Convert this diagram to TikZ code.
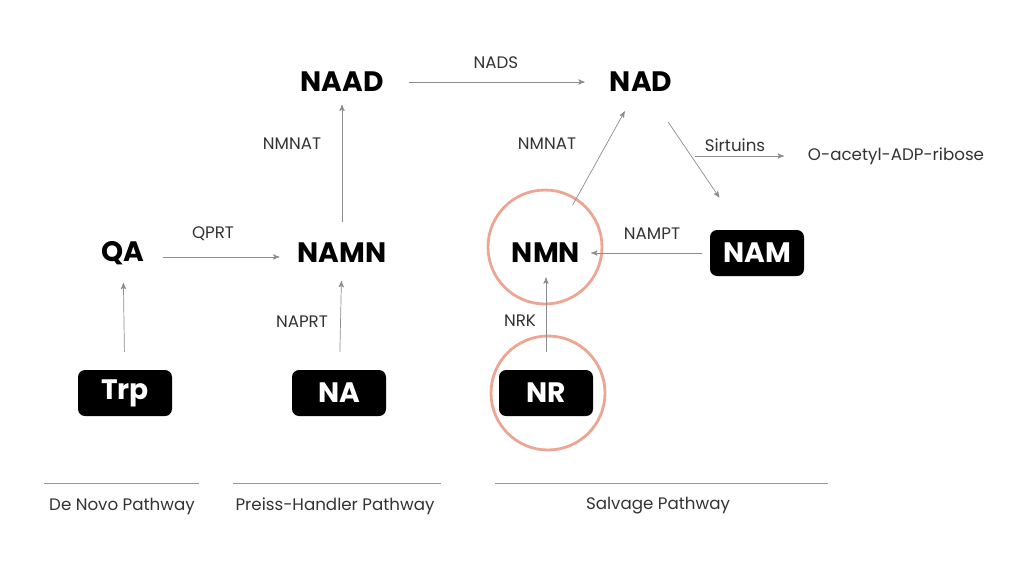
\documentclass[tikz,border=0pt]{standalone}
\usepackage{fontspec}
\setmainfont{Poppins}
\usetikzlibrary{arrows}
\begin{document}
\begin{tikzpicture}[x=0.02cm,y=-0.02cm,>=stealth',
                    semithick]
\tikzset{met/.style={font=\fontsize{16pt}{18}\selectfont\bfseries,inner sep=2pt},
         box/.style={met,fill=black,text=white,rounded corners=4pt,minimum width=94*0.02cm,minimum height=46*0.02cm},
         enz/.style={font=\fontsize{9.5pt}{11}\selectfont,text=black!80},
         flow/.style={draw=black!45,thin,arrows={-stealth'[scale=0.5]}},
         ring/.style={draw=brown!60!red!50,line width=1.6pt}}
\useasboundingbox (0,0) rectangle (1024,569);

        \node[met]      (NAAD)  at (342,82)   {NAAD};
        \node[met]      (NAD)   at (641,82)   {NAD};
        \node[met]      (QA)    at (123,253)  {QA};
        \node[met]      (NAMN)  at (342,253)  {NAMN};
        \node[met]      (NMN)   at (546,253)  {NMN};
        \node[box]      (NAM)   at (757,253)  {NAM};
        \node[box]      (Trp)   at (125,393)  {Trp};
        \node[box]      (NA)    at (339,393)  {NA};
        \node[box]      (NR)    at (546,393)  {NR};
        \node[enz]      (OADPR) at (896,156)  {O-acetyl-ADP-ribose};
        \coordinate     (sirt)  at (695,156);

        \draw[ring] (545,247) circle (57);
        \draw[ring] (548,393) circle (57);

        \draw[flow,shorten <=12pt,shorten >=12pt] (NAAD) -- (NAD);
        \draw[flow,shorten <=10pt,shorten >=5pt] (NAMN) -- (NAAD);
        \draw[flow,shorten <=8pt,shorten >=8pt] ([yshift=-4*0.02cm]QA.east) -- ([yshift=-4*0.02cm]NAMN.west);
        \draw[flow,shorten <=10pt,shorten >=8pt] (Trp) -- (QA);
        \draw[flow,shorten <=10pt,shorten >=8pt] (NA) -- (NAMN);
        \draw[flow,shorten <=22pt,shorten >=10pt] (NMN) -- (NAD);
        \draw[flow,shorten <=18pt,shorten >=22pt] (NAD) -- (NAM);
        \draw[flow,shorten >=10pt] (sirt) -- (OADPR.west);
        \draw[flow,shorten <=4pt,shorten >=4pt] (NAM) -- (NMN);
        \draw[flow,shorten <=10pt,shorten >=6pt] (NR) -- (NMN);

        \node[enz] at (496,63)  {NADS};
        \node[enz] at (292,144) {NMNAT};
        \node[enz] at (213,234) {QPRT};
        \node[enz] at (302,322) {NAPRT};
        \node[enz] at (547,144) {NMNAT};
        \node[enz] at (735,145) {Sirtuins};
        \node[enz] at (652,234) {NAMPT};
        \node[enz] at (520,321) {NRK};

        \draw[black!40,thin] (44,483) -- (199,483);
        \draw[black!40,thin] (233,483) -- (441,483);
        \draw[black!40,thin] (495,483) -- (828,483);
        \node[enz] at (122,506) {De Novo Pathway};
        \node[enz] at (335,506) {Preiss-Handler Pathway};
        \node[enz] at (658,506) {Salvage Pathway};
\end{tikzpicture}
\end{document}
